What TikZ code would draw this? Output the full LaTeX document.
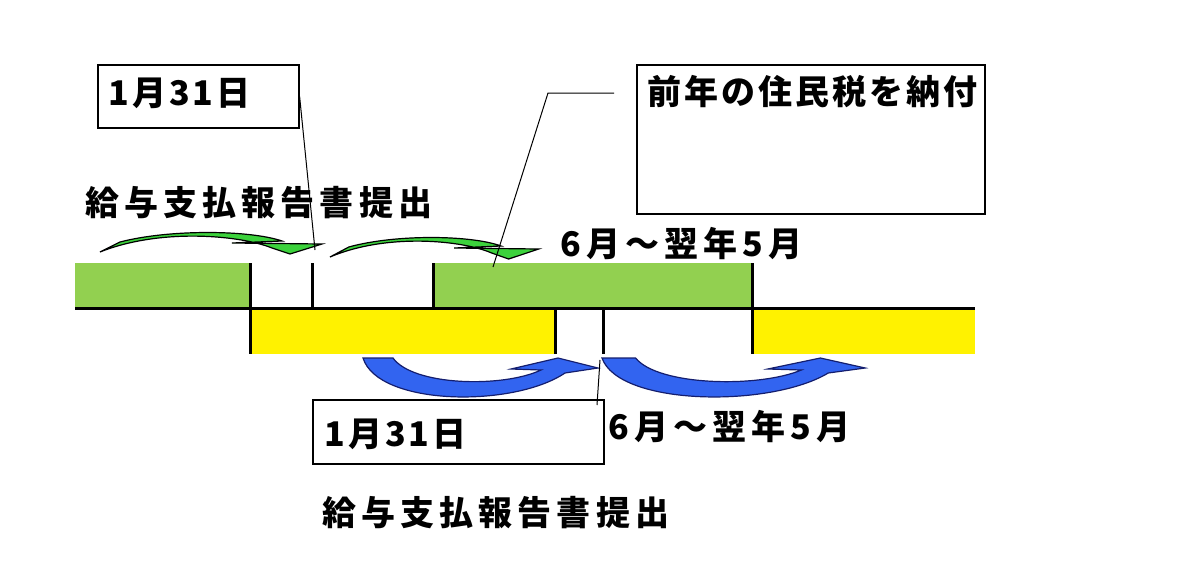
\documentclass[tikz,border=0pt]{standalone}
\usepackage{fontspec}
\setmainfont{Noto Sans CJK JP}
\newfontfamily\jpfont[LetterSpace=9]{Noto Sans CJK JP}
\newfontfamily\jpwide[LetterSpace=15]{Noto Sans CJK JP}
\usetikzlibrary{positioning}

\definecolor{barGreen}{RGB}{146,208,80}
\definecolor{arrGreen}{RGB}{60,210,60}
\definecolor{arrBlue}{RGB}{50,100,240}
\definecolor{arrNavy}{RGB}{20,30,110}

\tikzset{
  lbl/.style={font=\jpfont\bfseries\fontsize{17}{20}\selectfont, inner sep=0pt, anchor=west},
  widelbl/.style={lbl, font=\jpwide\bfseries\fontsize{17}{20}\selectfont},
  box/.style={draw, line width=0.8pt, inner sep=0pt, anchor=north west},
  tick/.style={line width=1.5pt},
  leader/.style={line width=0.5pt},
  blueArr/.style={fill=arrBlue, draw=arrNavy, line width=0.6pt},
  greenArr/.style={fill=arrGreen, draw=black, line width=0.6pt}
}

\begin{document}
\begin{tikzpicture}[x=0.5pt,y=-0.5pt]
\useasboundingbox (0,0) rectangle (1200,574);
% bars
\fill[barGreen] (75,263) rectangle (250,308);
\fill[barGreen] (433,263) rectangle (752,308);
\fill[yellow] (250,308) rectangle (555,354);
\fill[yellow] (752,308) rectangle (975,354);
% axis and ticks
\draw[tick] (75,308) -- (975,308);
\foreach \x/\a/\b in {250/263/354, 312/263/308, 433/263/308, 752/263/354, 555/308/354, 603/308/354}
  \draw[tick] (\x,\a) -- (\x,\b);

% green curved arrows
\foreach \x/\y/\s in {100/252/1, 330/257/0.94}
  \draw[greenArr, shift={(\x,\y)}, xscale=\s]
    (0,0) -- (20,-10) .. controls (70,-23) and (150,-22) .. (182,-11)
    -- (132,-9) -- (222,-8) -- (190,2) -- (172,-4)
    .. controls (140,-17) and (60,-24) .. (0,0) -- cycle;

% blue curved arrows
\foreach \x/\s in {363/1, 602/1.12}
  \draw[blueArr, shift={(\x,358)}, xscale=\s]
    (0,0) -- (30,0) .. controls (50,28) and (140,30) .. (178,12)
    -- (148,11) -- (195,0) -- (235,10) -- (202,15)
    .. controls (150,50) and (15,48) .. (0,0) -- cycle;

% boxes
\node[box, minimum width=100.5pt, minimum height=31.5pt] (boxJan) at (97,64) {};
\node[box, minimum width=174pt, minimum height=74.5pt] (boxTax) at (636,64) {};
\node[box, minimum width=145.5pt, minimum height=32pt] (boxJanLow) at (312,399) {};

\node[lbl, below right=7pt and 5.5pt of boxJan.north west] (janUp) {1月31日};
\node[lbl, below right=5.5pt and 5.5pt of boxTax.north west] (tax) {前年の住民税を納付};
\node[lbl, below right=10pt and 6pt of boxJanLow.north west] (janLow) {1月31日};

\node[widelbl] (reportUp) at (85,203) {給与支払報告書提出};
\node[widelbl] (termUp) at (560,244) {6月～翌年5月};
\node[widelbl] (termLow) at (608,427) {6月～翌年5月};
\node[widelbl] (reportLow) at (322,513) {給与支払報告書提出};

% leader lines
\coordinate (tipJan) at (315,250);
\coordinate (startTax) at (614,93);
\coordinate (bendTax) at (548,93);
\coordinate (tipTax) at (493,267);
\coordinate (topLow) at (600,360);
\coordinate (endLow) at (597,405);
\draw[leader] (boxJan.east) -- (tipJan);
\draw[leader] (startTax) -- (bendTax) -- (tipTax);
\draw[leader] (topLow) -- (endLow);
\end{tikzpicture}
\end{document}
